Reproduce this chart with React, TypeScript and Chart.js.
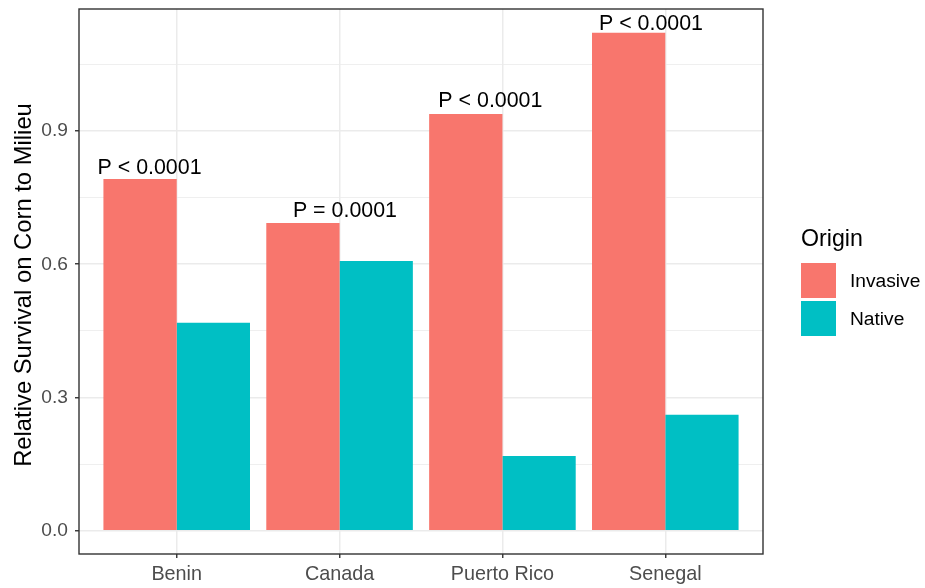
import React, { useEffect, useRef } from "react";
import { Chart, registerables } from "chart.js";

Chart.register(...registerables);

const categories = ["Benin", "Canada", "Puerto Rico", "Senegal"];
const seriesNames = ["Invasive", "Native"];
const invasive = [0.792, 0.693, 0.938, 1.121];
const native = [0.468, 0.607, 0.168, 0.261];
const pLabels = ["P < 0.0001", "P = 0.0001", "P < 0.0001", "P < 0.0001"];
// label anchors in data units (x: category index, y: baseline value)
const pLabelX = [-0.167, 1.033, 1.926, 2.912];
const pLabelY = [0.803, 0.707, 0.955, 1.127];
const yTicks = [0, 0.15, 0.3, 0.45, 0.6, 0.75, 0.9, 1.05];
const yTickLabels = ["0.0", "", "0.3", "", "0.6", "", "0.9", ""];
const legendTitle = "Origin";
const yTitle = "Relative Survival on Corn to Milieu";

const COLORS = ["#F8766D", "#00BFC4"];
const FONT = '"Liberation Sans", Arial, Helvetica, sans-serif';

export default function App() {
  const ref = useRef<HTMLCanvasElement | null>(null);

  useEffect(() => {
    const canvas = ref.current;
    if (!canvas) return;

    const extras = {
      id: "extras",
      afterDatasetsDraw(chart: any) {
        const ctx = chart.ctx;
        const ca = chart.chartArea;
        const xs = chart.scales.x;
        const ys = chart.scales.y;
        ctx.save();
        ctx.fillStyle = "#000000";
        ctx.font = `21.4px ${FONT}`;
        ctx.textAlign = "center";
        ctx.textBaseline = "alphabetic";
        pLabels.forEach((t, i) => {
          ctx.fillText(t, xs.getPixelForValue(pLabelX[i]), ys.getPixelForValue(pLabelY[i]));
        });
        ctx.strokeStyle = "#333333";
        ctx.lineWidth = 1.4;
        ctx.strokeRect(ca.left, ca.top, ca.right - ca.left, ca.bottom - ca.top);
        ctx.restore();
      },
      afterDraw(chart: any) {
        const ctx = chart.ctx;
        const ca = chart.chartArea;
        const lx = ca.right + 38;
        ctx.save();
        // y axis title
        ctx.save();
        ctx.translate(31, (ca.top + ca.bottom) / 2 + 3.5);
        ctx.rotate(-Math.PI / 2);
        ctx.fillStyle = "#000000";
        ctx.font = `23.8px ${FONT}`;
        ctx.textAlign = "center";
        ctx.textBaseline = "alphabetic";
        ctx.fillText(yTitle, 0, 0);
        ctx.restore();
        // legend
        ctx.fillStyle = "#000000";
        ctx.font = `23.2px ${FONT}`;
        ctx.textAlign = "left";
        ctx.textBaseline = "alphabetic";
        ctx.fillText(legendTitle, lx, 246);
        const boxTop = 263;
        const box = 35;
        const step = 38;
        seriesNames.forEach((name, i) => {
          const y = boxTop + i * step;
          ctx.fillStyle = COLORS[i];
          ctx.fillRect(lx, y, box, box);
          ctx.fillStyle = "#000000";
          ctx.font = `19.2px ${FONT}`;
          ctx.textBaseline = "middle";
          ctx.fillText(name, lx + 49, y + box / 2 + 1);
        });
        ctx.restore();
      },
    };

    const chart = new Chart(canvas, {
      type: "bar",
      data: {
        datasets: [
          {
            label: seriesNames[0],
            data: invasive.map((v, i) => ({ x: i, y: v })),
            backgroundColor: COLORS[0],
            borderWidth: 0,
          },
          {
            label: seriesNames[1],
            data: native.map((v, i) => ({ x: i, y: v })),
            backgroundColor: COLORS[1],
            borderWidth: 0,
          },
        ],
      },
      options: {
        responsive: false,
        animation: false,
        categoryPercentage: 0.9,
        barPercentage: 1.0,
        layout: { padding: { top: 9, right: 162, left: 0, bottom: 0 } },
        plugins: {
          legend: { display: false },
          tooltip: { enabled: false },
        },
        scales: {
          x: {
            type: "linear",
            min: -0.6,
            max: 3.6,
            offset: false,
            afterBuildTicks(scale: any) {
              scale.ticks = categories.map((_, i) => ({ value: i }));
            },
            afterFit(scale: any) {
              scale.height = 34;
              scale.paddingLeft = 0;
              scale.paddingRight = 0;
            },
            ticks: {
              callback: (v: any) => categories[Math.round(Number(v))] ?? "",
              color: "#4D4D4D",
              font: { family: FONT, size: 19.8 },
              padding: 5,
              maxRotation: 0,
              autoSkip: false,
            },
            grid: {
              offset: false,
              color: "#EBEBEB",
              lineWidth: 1.5,
              tickColor: "#333333",
              tickWidth: 1.4,
              tickLength: 4,
            },
            border: { display: false },
          },
          y: {
            type: "linear",
            min: -0.0525,
            max: 1.1747,
            afterBuildTicks(scale: any) {
              scale.ticks = yTicks.map((v) => ({ value: v }));
            },
            afterFit(scale: any) {
              scale.width = 79;
              scale.paddingTop = 0;
              scale.paddingBottom = 0;
            },
            ticks: {
              callback: (_v: any, i: number) => yTickLabels[i] ?? "",
              color: "#4D4D4D",
              font: { family: FONT, size: 19.2 },
              padding: 7,
              autoSkip: false,
            },
            grid: {
              color: "#EBEBEB",
              lineWidth: (c: any) => (c.index % 2 === 0 ? 1.5 : 0.8),
              tickColor: (c: any) => (c.index % 2 === 0 ? "#333333" : "rgba(0,0,0,0)"),
              tickWidth: 1.4,
              tickLength: 4,
            },
            border: { display: false },
          },
        },
      },
      plugins: [extras],
    } as any);

    return () => chart.destroy();
  }, []);

  return (
    <div
      style={{
        position: "fixed",
        left: 0,
        top: 0,
        width: 925,
        height: 588,
        background: "#ffffff",
      }}
    >
      <canvas ref={ref} width={925} height={588} style={{ display: "block" }} />
    </div>
  );
}
